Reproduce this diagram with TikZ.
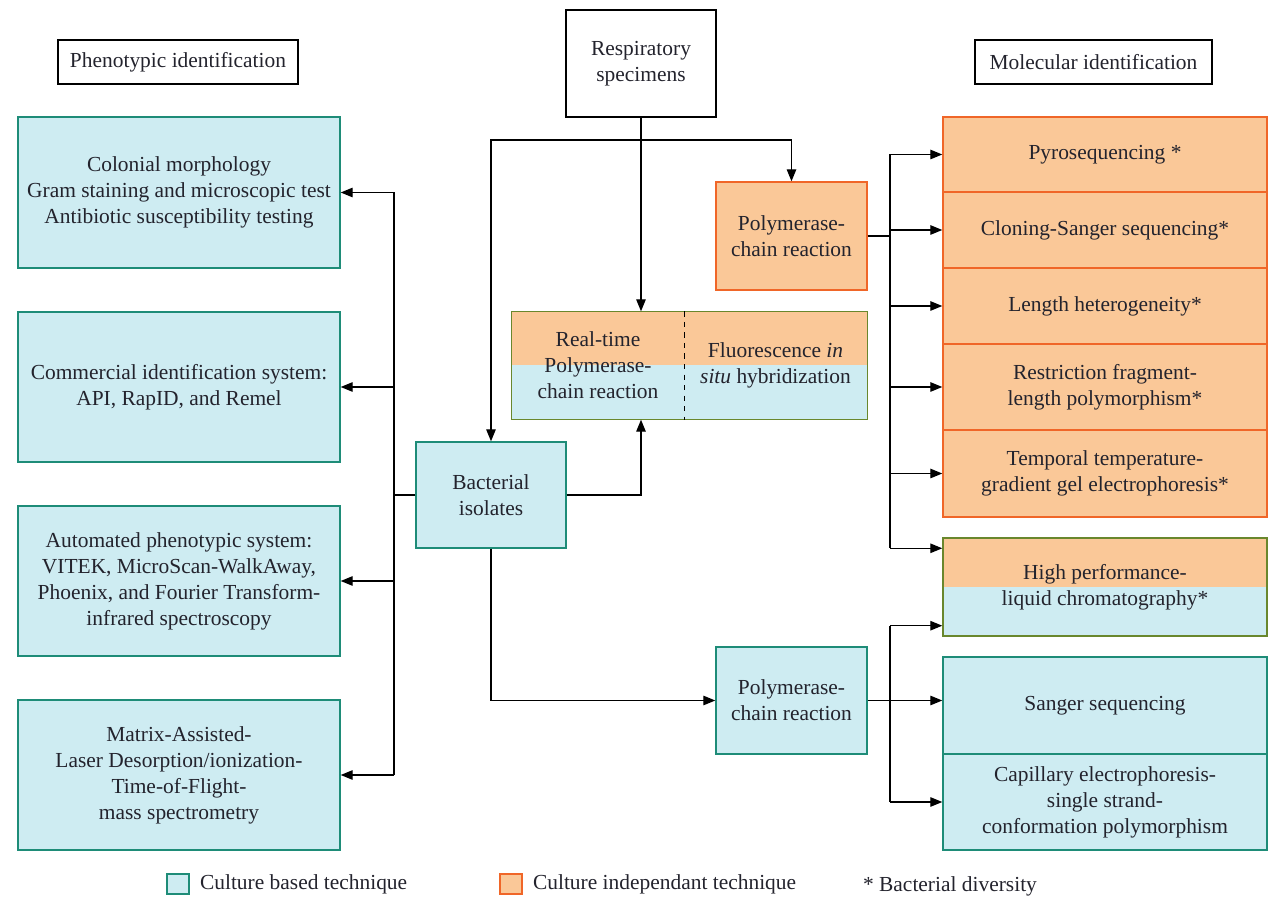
\documentclass[tikz,border=0pt]{standalone}
\usepackage{fontspec}
\setmainfont{Liberation Serif}
\usetikzlibrary{positioning, arrows.meta, calc}

\definecolor{cultB}{RGB}{206,236,242}
\definecolor{cultBline}{RGB}{30,140,120}
\definecolor{indep}{RGB}{250,200,152}
\definecolor{indepline}{RGB}{240,102,40}
\definecolor{mixline}{RGB}{105,135,45}
\definecolor{inkc}{RGB}{35,35,45}

\begin{document}
\begin{tikzpicture}[x=0.02cm, y=-0.02cm, font=\fontsize{12.2}{14.8}\selectfont, text=inkc,
    wh/.style 2 args={minimum width=#1*0.02cm, minimum height=#2*0.02cm},
    basebox/.style={line width=0.8pt, align=center, inner sep=2pt},
    plainbox/.style={basebox, draw=black},
    culture/.style={basebox, draw=cultBline, fill=cultB},
    indepbox/.style={basebox, draw=indepline, fill=indep},
    halfbox/.style={basebox, fill=indep, path picture={
        \fill[cultB] (path picture bounding box.west) rectangle (path picture bounding box.south east);}},
    arr/.style={-{Triangle[length=2.4mm, width=1.9mm]}, line width=0.75pt},
    link/.style={line width=0.75pt}]
    \useasboundingbox (0,0) rectangle (1269,898);

    % headings
    \node[plainbox, wh={240}{44}] (pheno) at (178,62) {Phenotypic identification};
    \node[plainbox, wh={150}{107}] (resp) at (641,63.5) {Respiratory\\specimens};
    \node[plainbox, wh={237}{44}] (molec) at (1093.5,62) {Molecular identification};

    % phenotypic column
    \node[culture, wh={322}{151}] (colon) at (179,192.5) {Colonial morphology\\Gram staining and microscopic test\\Antibiotic susceptibility testing};
    \node[culture, wh={322}{150}] (commer) at (179,387) {Commercial identification system:\\API, RapID, and Remel};
    \node[culture, wh={322}{150}] (auto) at (179,581) {Automated phenotypic system:\\VITEK, MicroScan-WalkAway,\\Phoenix, and Fourier Transform-\\infrared spectroscopy};
    \node[culture, wh={322}{150}] (maldi) at (179,775) {Matrix-Assisted-\\Laser Desorption/ionization-\\Time-of-Flight-\\mass spectrometry};

    % middle
    \node[culture, wh={150}{106}] (isol) at (491,495) {Bacterial\\isolates};
    \node[indepbox, wh={151}{108}] (pcrA) at (791.5,236) {Polymerase-\\chain reaction};
    \node[halfbox, wh={172}{107}] (rtpcr) at (598,365.5) {Real-time\\Polymerase-\\chain reaction};
    \node[halfbox, wh={183}{107}] (fish) at (775.5,365.5) {Fluorescence \emph{in}\\\emph{situ} hybridization};
    \draw[line width=0.8pt, draw=mixline] (rtpcr.north west) rectangle (fish.south east);
    \draw[dashed, line width=0.7pt] (rtpcr.north east) -- (rtpcr.south east);
    \node[culture, wh={151}{107}] (pcrB) at (791.5,700.5) {Polymerase-\\chain reaction};

    % molecular column
    \node[indepbox, wh={324}{75}] (pyro) at (1105,154.5) {Pyrosequencing *};
    \node[indepbox, wh={324}{76}] (clon) at (1105,230) {Cloning-Sanger sequencing*};
    \node[indepbox, wh={324}{76}] (lenh) at (1105,306) {Length heterogeneity*};
    \node[indepbox, wh={324}{86}] (rflp) at (1105,387) {Restriction fragment-\\length polymorphism*};
    \node[indepbox, wh={324}{87}] (ttge) at (1105,473.5) {Temporal temperature-\\gradient gel electrophoresis*};
    \node[halfbox, draw=mixline, wh={324}{98}] (hplc) at (1105,587) {High performance-\\liquid chromatography*};
    \node[culture, wh={324}{97}] (sang) at (1105,705.5) {Sanger sequencing};
    \node[culture, wh={324}{96}] (cape) at (1105,802) {Capillary electrophoresis-\\single strand-\\conformation polymorphism};

    % connectors
    \coordinate (split) at (641,140);
    \draw[link] (resp.south) -- (split);
    \draw[arr] (split) -| (isol.north);
    \draw[arr] (split) -| (pcrA.north);
    \draw[arr] (split) -- (split |- rtpcr.north);
    \draw[arr] (isol.east) -| (split |- rtpcr.south);
    \draw[arr] (isol.south) |- (pcrB.west);

    \coordinate (ltrunk) at (394,495);
    \draw[link] (isol.west) -- (ltrunk);
    \draw[link] (ltrunk |- colon) -- (ltrunk |- maldi);
    \foreach \b in {colon,commer,auto,maldi}
        \draw[arr] (ltrunk |- \b) -- (\b.east);

    \coordinate (rtrunk) at (890,236);
    \coordinate (hplcin) at ($(hplc.north west)+(0,11)$);
    \coordinate (hplcout) at ($(hplc.south west)+(0,-11)$);
    \draw[link] (pcrA.east) -- (rtrunk);
    \draw[link] (rtrunk |- pyro) -- (rtrunk |- hplcin);
    \foreach \b in {pyro,clon,lenh,rflp,ttge}
        \draw[arr] (rtrunk |- \b) -- (\b.west);
    \draw[arr] (rtrunk |- hplcin) -- (hplcin);

    \draw[link] (pcrB.east) -- (rtrunk |- pcrB);
    \draw[link] (rtrunk |- hplcout) -- (rtrunk |- cape);
    \draw[arr] (rtrunk |- hplcout) -- (hplcout);
    \draw[arr] (pcrB.east -| rtrunk) -- (pcrB.east -| sang.west);
    \draw[arr] (rtrunk |- cape) -- (cape.west);

    % legend
    \node[draw=cultBline, fill=cultB, line width=0.8pt, wh={22}{20}, inner sep=0pt] (keyA) at (178,884) {};
    \node[right=0.2cm of keyA, inner sep=0pt] (keyAtxt) {Culture based technique};
    \node[draw=indepline, fill=indep, line width=0.8pt, wh={22}{20}, inner sep=0pt] (keyB) at (511,884) {};
    \node[right=0.2cm of keyB, inner sep=0pt] (keyBtxt) {Culture independant technique};
    \node[inner sep=0pt] (keyC) at (950,886) {* Bacterial diversity};
\end{tikzpicture}
\end{document}
